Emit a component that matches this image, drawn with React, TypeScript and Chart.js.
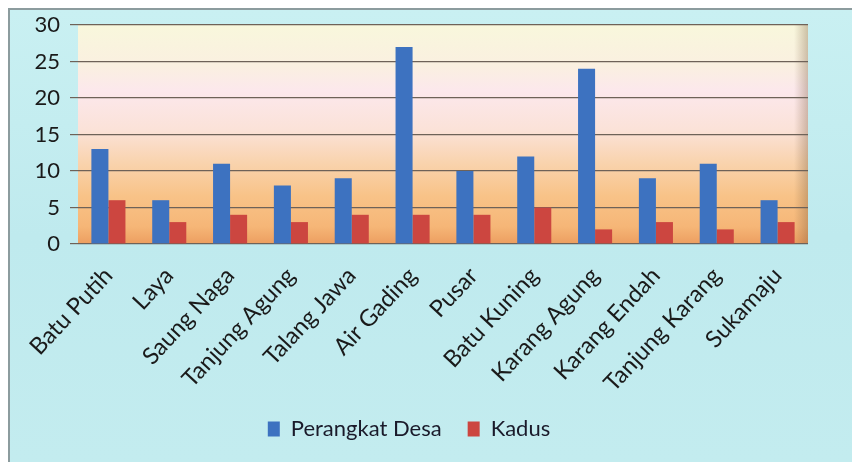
import React, { useEffect, useRef } from "react";
import { Chart, registerables } from "chart.js";

Chart.register(...registerables);

const categories = [
  "Batu Putih",
  "Laya",
  "Saung Naga",
  "Tanjung Agung",
  "Talang Jawa",
  "Air Gading",
  "Pusar",
  "Batu Kuning",
  "Karang Agung",
  "Karang Endah",
  "Tanjung Karang",
  "Sukamaju",
];
const perangkatDesa = [13, 6, 11, 8, 9, 27, 10, 12, 24, 9, 11, 6];
const kadus = [6, 3, 4, 3, 4, 4, 4, 5, 2, 3, 2, 3];
const yTicks = [0, 5, 10, 15, 20, 25, 30];

const FONT = "Lato, 'Open Sans', sans-serif";

const plotBg = {
  id: "plotBg",
  beforeDraw(chart: any) {
    const { ctx, chartArea } = chart;
    if (!chartArea) return;
    const { left, right, top, bottom } = chartArea;
    const g = ctx.createLinearGradient(0, top, 0, bottom);
    g.addColorStop(0, "#f8f7dc");
    g.addColorStop(0.18, "#faf0e0");
    g.addColorStop(0.3, "#fce8ec");
    g.addColorStop(0.48, "#fbe2d8");
    g.addColorStop(0.62, "#f9d4b0");
    g.addColorStop(0.78, "#f8c388");
    g.addColorStop(0.92, "#f6b677");
    g.addColorStop(1, "#ec9e60");
    ctx.save();
    ctx.fillStyle = g;
    ctx.fillRect(left, top, right - left, bottom - top);
    const s = ctx.createLinearGradient(right - 14, 0, right, 0);
    s.addColorStop(0, "rgba(120,90,60,0)");
    s.addColorStop(1, "rgba(120,90,60,0.35)");
    ctx.fillStyle = s;
    ctx.fillRect(right - 14, top, 14, bottom - top);
    ctx.restore();
  },
};

export default function App() {
  const ref = useRef<HTMLCanvasElement>(null);
  useEffect(() => {
    if (!ref.current) return;
    const chart = new Chart(ref.current, {
      type: "bar",
      data: {
        labels: categories,
        datasets: [
          {
            label: "Perangkat Desa",
            data: perangkatDesa,
            backgroundColor: "#3d72c0",
            barPercentage: 1,
            categoryPercentage: 0.56,
          },
          {
            label: "Kadus",
            data: kadus,
            backgroundColor: "#cc4640",
            barPercentage: 1,
            categoryPercentage: 0.56,
          },
        ],
      },
      options: {
        responsive: false,
        animation: false,
        maintainAspectRatio: false,
        layout: { padding: { left: 0, right: 52, top: 15, bottom: 12 } },
        plugins: {
          legend: {
            position: "bottom",
            labels: {
              font: { family: FONT, size: 22 },
              color: "#1a1a2a",
              boxWidth: 12,
              boxHeight: 15,
              padding: 26,
            },
          },
          tooltip: { enabled: false },
        },
        scales: {
          x: {
            grid: { display: false, drawTicks: false },
            border: { display: false },
            ticks: {
              font: { family: FONT, size: 23.5 },
              color: "#1a1a1a",
              minRotation: 47,
              maxRotation: 47,
              padding: 18,
            },
            afterFit(axis: any) {
              axis.height = 148;
            },
          },
          y: {
            min: 0,
            max: 30,
            afterBuildTicks(axis: any) {
              axis.ticks = yTicks.map((v) => ({ value: v }));
            },
            grid: {
              color: "#6e6258",
              lineWidth: 1.2,
              tickLength: 8,
            },
            border: { display: false },
            ticks: {
              font: { family: FONT, size: 22 },
              color: "#1a1a1a",
              padding: 10,
            },
            afterFit(axis: any) {
              axis.width = 68;
              axis.paddingTop = 0;
            },
          },
        },
      },
      plugins: [plotBg],
    });
    return () => chart.destroy();
  }, []);

  return (
    <div
      style={{
        width: 852,
        height: 454,
        boxSizing: "border-box",
        borderLeft: "2px solid #8c9c9e",
        borderTop: "2px solid #8c9c9e",
        background:
          "linear-gradient(180deg, #c9f0f2 0%, #bfeaee 50%, #c3ecef 100%)",
      }}
    >
      <canvas ref={ref} width={850} height={452} />
    </div>
  );
}
